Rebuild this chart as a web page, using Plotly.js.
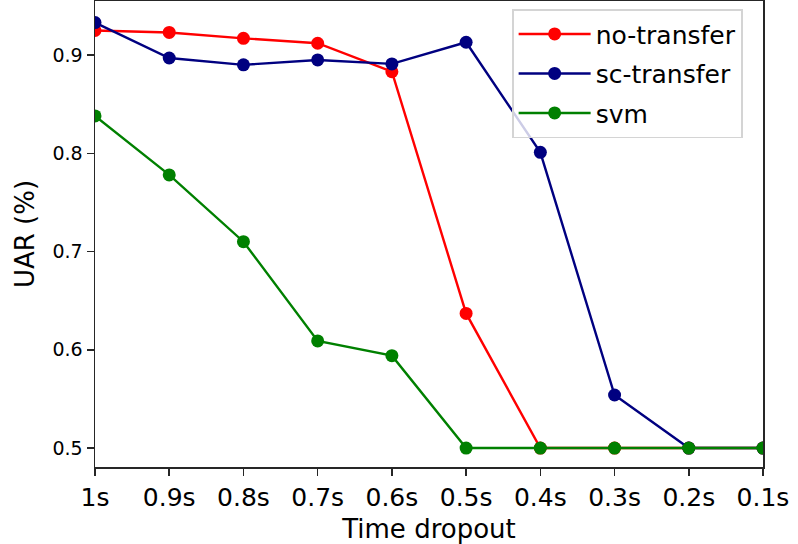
<!DOCTYPE html>
<html>
<head>
<meta charset="utf-8">
<script src="https://cdn.plot.ly/plotly-3.0.1.min.js"></script>
<style>html,body{margin:0;padding:0;background:#fff;}#chart{width:798px;height:544px;}</style>
</head>
<body>
<div id="chart"></div>
<script>
var categories = ["1s","0.9s","0.8s","0.7s","0.6s","0.5s","0.4s","0.3s","0.2s","0.1s"];
var noTransfer = [0.925,0.923,0.917,0.912,0.883,0.637,0.500,0.500,0.500,0.500];
var scTransfer = [0.933,0.897,0.890,0.895,0.891,0.913,0.801,0.554,0.500,0.500];
var svm        = [0.838,0.778,0.710,0.609,0.594,0.500,0.500,0.500,0.500,0.500];
var yTicks = [0.5,0.6,0.7,0.8,0.9];

var idx = categories.map(function(_, i){ return i; });
function tr(name, y, color, grp){
  return {x: idx, y: y, name: name, type: 'scatter', mode: 'lines+markers',
    legendgroup: grp,
    line: {color: color, width: 2.4}, marker: {color: color, size: 13}};
}
var data = [
  tr('no-transfer', noTransfer, '#ff0000', 'a'),
  tr('sc-transfer', scTransfer, '#000080', 'b'),
  tr('svm', svm, '#008000', 'c')
];
var font = 'DejaVu Sans, sans-serif';
var layout = {
  width: 798, height: 544,
  margin: {l: 95, r: 35, t: 1, b: 77},
  paper_bgcolor: '#fff', plot_bgcolor: '#fff',
  showlegend: true,
  legend: {x: 0.624, y: 0.982, xanchor: 'left', yanchor: 'top',
    bordercolor: '#d4d4d4', borderwidth: 1.8, bgcolor: 'rgba(255,255,255,0.8)',
    itemwidth: 72,
    font: {family: font, size: 25, color: '#000'}, tracegroupgap: 4, traceorder: 'grouped'},
  xaxis: {
    range: [0, 9], tickmode: 'array', tickvals: idx, ticktext: categories,
    showgrid: false, zeroline: false, showline: true, mirror: true,
    linecolor: '#262626', linewidth: 1.5,
    ticks: 'outside', ticklen: 7, tickwidth: 1.5, tickcolor: '#262626',
    tickfont: {family: font, size: 25, color: '#000'},
    title: {text: 'Time dropout', font: {family: font, size: 26, color: '#000'}, standoff: 9}
  },
  yaxis: {
    range: [0.4807, 0.955], tickmode: 'array', tickvals: yTicks,
    ticktext: yTicks.map(function(v){ return v.toFixed(1); }),
    showgrid: false, zeroline: false, showline: true, mirror: true,
    linecolor: '#262626', linewidth: 1.5,
    ticks: 'outside', ticklen: 7, tickwidth: 1.5, tickcolor: '#262626',
    tickfont: {family: font, size: 19, color: '#000'},
    title: {text: 'UAR (%)', font: {family: font, size: 26, color: '#000'}, standoff: 10}
  }
};
Plotly.newPlot('chart', data, layout, {displayModeBar: false, staticPlot: true});
</script>
</body>
</html>
